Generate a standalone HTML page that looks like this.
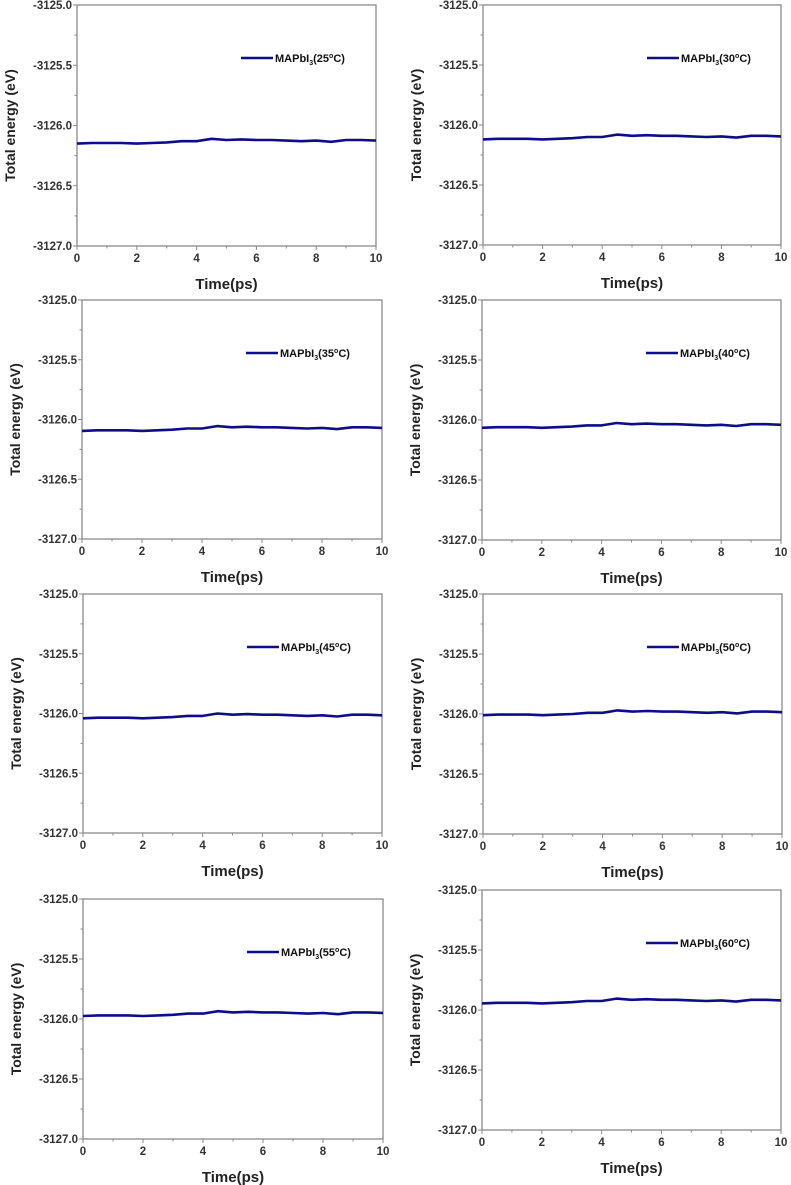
<!DOCTYPE html>
<html><head><meta charset="utf-8"><style>
html,body{margin:0;padding:0;background:#fff;}
svg{display:block;font-family:"Liberation Sans",Arial,sans-serif;}
</style></head><body>
<svg id="chart" width="791" height="1185" viewBox="0 0 791 1185" xmlns="http://www.w3.org/2000/svg"></svg>
<script>
const times = [0,0.5,1,1.5,2,2.5,3,3.5,4,4.5,5,5.5,6,6.5,7,7.5,8,8.5,9,9.5,10];
const labels = ["25","30","35","40","45","50","55","60"];
const s25 = [-3126.15,-3126.145,-3126.145,-3126.145,-3126.15,-3126.145,-3126.14,-3126.13,-3126.13,-3126.11,-3126.12,-3126.115,-3126.12,-3126.12,-3126.125,-3126.13,-3126.125,-3126.135,-3126.12,-3126.12,-3126.125];
const s30 = [-3126.12,-3126.115,-3126.115,-3126.115,-3126.12,-3126.115,-3126.11,-3126.10,-3126.10,-3126.08,-3126.09,-3126.085,-3126.09,-3126.09,-3126.095,-3126.10,-3126.095,-3126.105,-3126.09,-3126.09,-3126.095];
const s35 = [-3126.095,-3126.09,-3126.09,-3126.09,-3126.095,-3126.09,-3126.085,-3126.075,-3126.075,-3126.055,-3126.065,-3126.06,-3126.065,-3126.065,-3126.07,-3126.075,-3126.07,-3126.08,-3126.065,-3126.065,-3126.07];
const s40 = [-3126.065,-3126.06,-3126.06,-3126.06,-3126.065,-3126.06,-3126.055,-3126.045,-3126.045,-3126.025,-3126.035,-3126.03,-3126.035,-3126.035,-3126.04,-3126.045,-3126.04,-3126.05,-3126.035,-3126.035,-3126.04];
const s45 = [-3126.04,-3126.035,-3126.035,-3126.035,-3126.04,-3126.035,-3126.03,-3126.02,-3126.02,-3126.0,-3126.01,-3126.005,-3126.01,-3126.01,-3126.015,-3126.02,-3126.015,-3126.025,-3126.01,-3126.01,-3126.015];
const s50 = [-3126.01,-3126.005,-3126.005,-3126.005,-3126.01,-3126.005,-3126.0,-3125.99,-3125.99,-3125.97,-3125.98,-3125.975,-3125.98,-3125.98,-3125.985,-3125.99,-3125.985,-3125.995,-3125.98,-3125.98,-3125.985];
const s55 = [-3125.975,-3125.97,-3125.97,-3125.97,-3125.975,-3125.97,-3125.965,-3125.955,-3125.955,-3125.935,-3125.945,-3125.94,-3125.945,-3125.945,-3125.95,-3125.955,-3125.95,-3125.96,-3125.945,-3125.945,-3125.95];
const s60 = [-3125.945,-3125.94,-3125.94,-3125.94,-3125.945,-3125.94,-3125.935,-3125.925,-3125.925,-3125.905,-3125.915,-3125.91,-3125.915,-3125.915,-3125.92,-3125.925,-3125.92,-3125.93,-3125.915,-3125.915,-3125.92];
const xTicks = [0,2,4,6,8,10];
const yTicks = [-3127.0,-3126.5,-3126.0,-3125.5,-3125.0];
const yTickLabels = ["-3127.0","-3126.5","-3126.0","-3125.5","-3125.0"];

const allSeries=[s25,s30,s35,s40,s45,s50,s55,s60];
const boxes=[[77,5,376,246],[483,5,781,245],[82,300,382,539],[482,300,781,540],[83,594,382,833],[483,594,782,834],[83,899,383,1139],[482,890,781,1130]];
const svg=document.getElementById('chart');
const NS="http://www.w3.org/2000/svg";
function mk(tag,attrs,parent){const e=document.createElementNS(NS,tag);for(const k in attrs)e.setAttribute(k,attrs[k]);(parent||svg).appendChild(e);return e;}
allSeries.forEach((ser,i)=>{
  const [L,T,R,B]=boxes[i];
  const g=mk('g',{});
  
  
  const sx=v=>L+(v-0)/10*(R-L);
  const sy=v=>B-(v-(-3127))/2*(B-T);
  const frame=mk('rect',{x:L,y:T,width:R-L,height:B-T,fill:'none',stroke:'#8a8a8a','stroke-width':1.3},g);
  
  
  for(let v=0;v<=10;v+=1){const x=sx(v);mk('line',{x1:x,y1:B,x2:x,y2:B+(v%2==0?4:2.5),stroke:'#8a8a8a','stroke-width':1},g);}
  for(let k=0;k<=8;k++){const y=sy(-3127+k*0.25);mk('line',{x1:L,y1:y,x2:L-(k%2==0?4:2.5),y2:y,stroke:'#8a8a8a','stroke-width':1},g);}
  xTicks.forEach(v=>{const t=mk('text',{x:sx(v),y:B+16,'text-anchor':'middle','font-size':11.5,'font-weight':'bold',fill:'#333'},g);t.textContent=v;
    
    });
  yTicks.forEach((v,j)=>{const t=mk('text',{x:L-5,y:sy(v)+4,'text-anchor':'end','font-size':11.5,'font-weight':'bold',fill:'#333'},g);t.textContent=yTickLabels[j];
    
    });
  const xt=mk('text',{x:(L+R)/2,y:B+43,'text-anchor':'middle','font-size':15,'font-weight':'bold',fill:'#222'},g);xt.textContent='Time(ps)';
  
  
  const cy=(T+B)/2, cx=L-62;
  const yt=mk('text',{x:cx,y:cy,'text-anchor':'middle','font-size':14,'font-weight':'bold',fill:'#222',transform:`rotate(-90 ${cx} ${cy})`},g);yt.textContent='Total energy (eV)';
  
  
  const d=ser.map((v,j)=>(j?'L':'M')+sx(times[j]).toFixed(1)+' '+sy(v).toFixed(1)).join(' ');
  const p=mk('path',{d:d,fill:'none',stroke:'#0d0d8a','stroke-width':2.6,'stroke-linejoin':'round'},g);
  
  
  const ly=T+53;
  const lg=mk('g',{},g);
  
  
  mk('line',{x1:L+164,y1:ly,x2:L+196,y2:ly,stroke:'#0d0d8a','stroke-width':2.6},lg);
  const lt=mk('text',{x:L+198,y:ly+4,'font-size':11,'font-weight':'bold',fill:'#111'},lg);
  lt.innerHTML='MAPbI<tspan font-size="7" dy="3">3</tspan><tspan dy="-3">('+labels[i]+'</tspan><tspan font-size="7" dy="-4">o</tspan><tspan dy="4">C)</tspan>';
});
</script>
</body></html>
